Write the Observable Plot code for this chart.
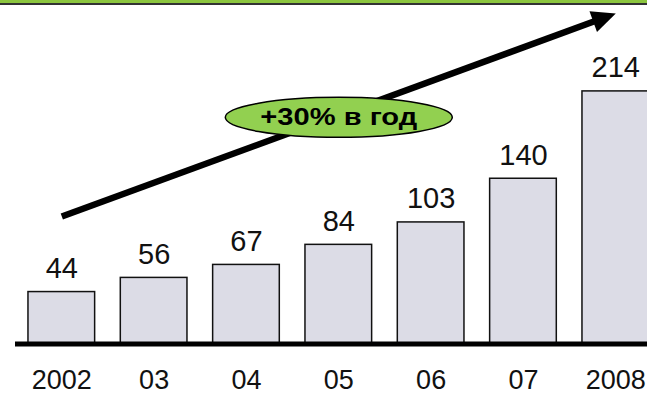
<!DOCTYPE html>
<html>
<head>
<meta charset="utf-8">
<script src="https://cdn.jsdelivr.net/npm/d3@7"></script>
<script src="https://cdn.jsdelivr.net/npm/@observablehq/plot@0.6"></script>
<style>
  html, body { margin: 0; padding: 0; background: #fff; }
  #band { height: 3px; background: #8cc63f; border-bottom: 2px solid #333; width: 647px; }
  #chart { width: 647px; }
  #chart svg, #chart svg text { font-family: "Liberation Sans", Arial, sans-serif; }
</style>
</head>
<body>
<div id="band"></div>
<div id="chart"></div>
<script>
// ---- data ----
const years = ["2002", "03", "04", "05", "06", "07", "2008"];
const values = [44, 56, 67, 84, 103, 140, 214];
const arrowFrom = ["2002", 108];
const arrowTo = ["2008", 280];
const growthLabel = "+30% в год";
const growthAt = ["05", 192];

const bars = years.map((y, i) => ({year: y, value: values[i]}));
const arrowRow = [{x1: arrowFrom[0], y1: arrowFrom[1], x2: arrowTo[0], y2: arrowTo[1]}];
const headRow = [{year: arrowTo[0], value: arrowTo[1]}];
const growthRow = [{year: growthAt[0], value: growthAt[1], label: growthLabel}];

const FONT = "Liberation Sans, Arial, sans-serif";

// ---- custom symbols (shape only) ----
const headSymbol = {
  draw(ctx) {
    ctx.moveTo(0, 0);
    ctx.lineTo(11, 24);
    ctx.lineTo(-11, 24);
    ctx.closePath();
  }
};
const ellipseSymbol = {
  draw(ctx) {
    const rx = 113.5, ry = 20, k = 0.5523;
    ctx.moveTo(rx, 0);
    ctx.bezierCurveTo(rx, ry * k, rx * k, ry, 0, ry);
    ctx.bezierCurveTo(-rx * k, ry, -rx, ry * k, -rx, 0);
    ctx.bezierCurveTo(-rx, -ry * k, -rx * k, -ry, 0, -ry);
    ctx.bezierCurveTo(rx * k, -ry, rx, -ry * k, rx, 0);
    ctx.closePath();
  }
};

const chart = Plot.plot({
  width: 647,
  height: 389,
  marginTop: 8,
  marginBottom: 50.5,
  marginLeft: 15,
  marginRight: 0,
  style: {fontFamily: FONT, color: "#111", background: "white"},
  x: {type: "band", domain: years, range: [2.3, 674.3], padding: 0.278, round: false, axis: null},
  y: {domain: [0, 280], axis: null},
  marks: [
    Plot.barY(bars, {x: "year", y: "value", fill: "#dcdce6", stroke: "#111", strokeWidth: 1.5}),
    Plot.ruleY([0], {stroke: "#000", strokeWidth: 5}),
    Plot.text(bars, {x: "year", y: "value", text: d => String(d.value), lineAnchor: "bottom", dy: -14, fontSize: 29, fontFamily: FONT, fill: "#111"}),
    Plot.axisX({tickSize: 0, tickPadding: 25.5, fontSize: 27, fontFamily: FONT, fill: "#111"}),
    Plot.arrow(arrowRow, {x1: "x1", y1: "y1", x2: "x2", y2: "y2", stroke: "#000", strokeWidth: 6.5, headLength: 0, insetEnd: 14, strokeLinecap: "butt"}),
    Plot.dot(headRow, {x: "year", y: "value", symbol: headSymbol, fill: "#000", stroke: "none", rotate: 70}),
    Plot.dot(growthRow, {x: "year", y: "value", symbol: ellipseSymbol, fill: "#92d050", stroke: "#000", strokeWidth: 1.5}),
    Plot.text(growthRow, {x: "year", y: "value", text: "label", fontSize: 23, fontWeight: "bold", fontFamily: FONT, fill: "#000", lineAnchor: "middle", className: "growth"})
  ]
});
document.getElementById("chart").appendChild(chart);

// widen the growth label horizontally like the original (stretched text)
chart.querySelectorAll(".growth text").forEach(t => {
  const len = t.getComputedTextLength();
  const s = len > 0 ? 157 / len : 1;
  const tr = t.getAttribute("transform") || "";
  t.setAttribute("transform", tr + ` scale(${s},1)`);
});
</script>
</body>
</html>
